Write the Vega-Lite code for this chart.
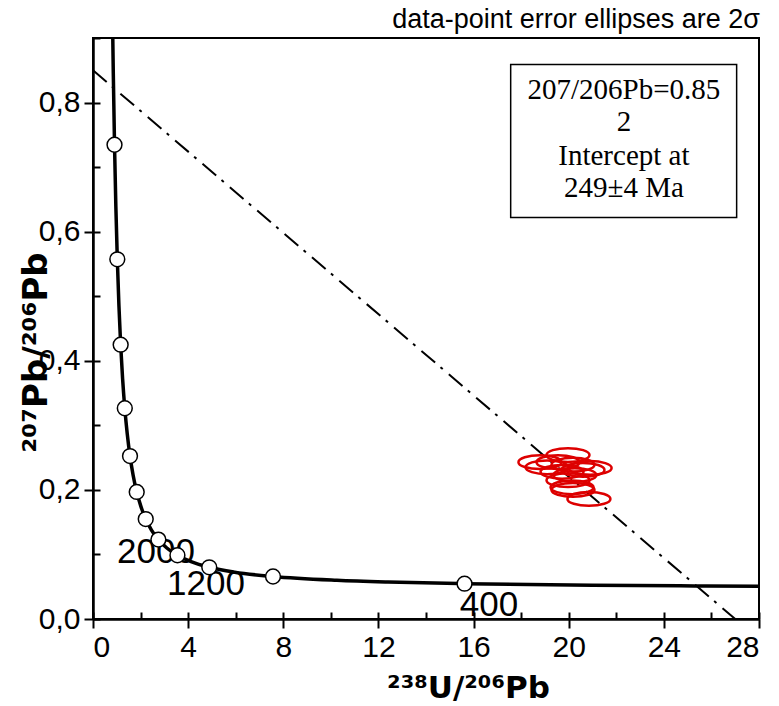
{
  "$schema": "https://vega.github.io/schema/vega-lite/v6.json",
  "width": 666,
  "height": 581,
  "autosize": {"type": "none"},
  "padding": {"left": 93, "top": 38, "right": 20, "bottom": 87},
  "background": "white",
  "title": {"text": "data-point error ellipses are 2σ", "anchor": "end", "fontSize": 27, "font": "Liberation Sans", "fontWeight": "normal", "color": "black", "offset": 3},
  "config": {
    "view": {"stroke": "black", "strokeWidth": 2},
    "axis": {"grid": false, "domainColor": "black", "domainWidth": 2.5, "tickColor": "black", "tickWidth": 2, "labelColor": "black", "labelFont": "Liberation Sans", "labelFontSize": 30, "titleFont": "DejaVu Sans", "titleFontSize": 31, "titleFontWeight": "bold", "titleColor": "black"}
  },
  "datasets": {
    "box": [{"x1": 17.56, "x2": 27.06, "y1": 0.622, "y2": 0.859}],
    "boxtext": [
      {"x": 22.32, "y": 0.8195, "label": "207/206Pb=0.85"},
      {"x": 22.32, "y": 0.7699, "label": "2"},
      {"x": 22.32, "y": 0.7172, "label": "Intercept at"},
      {"x": 22.32, "y": 0.6676, "label": "249±4 Ma"}
    ],
    "discordia": [{"x": 0, "y": 0.85}, {"x": 27.0, "y": 0.0}],
    "ellipses": [
      {"x": 19.97, "y": 0.254},
      {"x": 18.79, "y": 0.243},
      {"x": 19.09, "y": 0.235},
      {"x": 20.60, "y": 0.231},
      {"x": 20.26, "y": 0.223},
      {"x": 19.97, "y": 0.215},
      {"x": 20.14, "y": 0.204},
      {"x": 20.18, "y": 0.200},
      {"x": 20.85, "y": 0.186},
      {"x": 19.55, "y": 0.243},
      {"x": 20.18, "y": 0.239},
      {"x": 19.72, "y": 0.228},
      {"x": 20.90, "y": 0.234}
    ],
    "agelabels": [
      {"x": 2.65, "y": 0.104, "label": "2000"},
      {"x": 4.75, "y": 0.054, "label": "1200"},
      {"x": 16.65, "y": 0.0217, "label": "400"}
    ],
    "curve": [
      {"t": 220, "x": 28.80, "y": 0.0505},
      {"t": 250, "x": 25.29, "y": 0.0512},
      {"t": 300, "x": 20.99, "y": 0.0523},
      {"t": 400, "x": 15.62, "y": 0.0547},
      {"t": 500, "x": 12.40, "y": 0.0572},
      {"t": 600, "x": 10.252, "y": 0.0599},
      {"t": 800, "x": 7.568, "y": 0.0658},
      {"t": 1000, "x": 5.959, "y": 0.0725},
      {"t": 1200, "x": 4.888, "y": 0.0801},
      {"t": 1400, "x": 4.123, "y": 0.0888},
      {"t": 1600, "x": 3.550, "y": 0.0987},
      {"t": 1800, "x": 3.104, "y": 0.1100},
      {"t": 2000, "x": 2.749, "y": 0.1230},
      {"t": 2200, "x": 2.459, "y": 0.1378},
      {"t": 2400, "x": 2.217, "y": 0.1548},
      {"t": 2600, "x": 2.013, "y": 0.1744},
      {"t": 2800, "x": 1.838, "y": 0.1968},
      {"t": 3000, "x": 1.687, "y": 0.2227},
      {"t": 3200, "x": 1.556, "y": 0.2524},
      {"t": 3400, "x": 1.440, "y": 0.2868},
      {"t": 3600, "x": 1.337, "y": 0.3264},
      {"t": 3800, "x": 1.245, "y": 0.3721},
      {"t": 4000, "x": 1.163, "y": 0.4249},
      {"t": 4200, "x": 1.089, "y": 0.4864},
      {"t": 4400, "x": 1.022, "y": 0.5572},
      {"t": 4600, "x": 0.9605, "y": 0.6394},
      {"t": 4800, "x": 0.9044, "y": 0.7347},
      {"t": 5000, "x": 0.8533, "y": 0.8453},
      {"t": 5100, "x": 0.8292, "y": 0.9071}
    ],
    "circles": [
      {"t": 400, "x": 15.62, "y": 0.0547},
      {"t": 800, "x": 7.568, "y": 0.0658},
      {"t": 1200, "x": 4.888, "y": 0.0801},
      {"t": 1600, "x": 3.550, "y": 0.0987},
      {"t": 2000, "x": 2.749, "y": 0.1230},
      {"t": 2400, "x": 2.217, "y": 0.1548},
      {"t": 2800, "x": 1.838, "y": 0.1968},
      {"t": 3200, "x": 1.556, "y": 0.2524},
      {"t": 3600, "x": 1.337, "y": 0.3264},
      {"t": 4000, "x": 1.163, "y": 0.4249},
      {"t": 4400, "x": 1.022, "y": 0.5572},
      {"t": 4800, "x": 0.9044, "y": 0.7347}
    ]
  },
  "resolve": {"axis": {"x": "independent", "y": "independent"}},
  "layer": [
    {
      "data": {"name": "box"},
      "mark": {"type": "rect", "fill": "white", "stroke": "black", "strokeWidth": 1.5},
      "encoding": {
        "x": {"field": "x1", "type": "quantitative", "scale": {"domain": [0, 28], "nice": false, "zero": false},
          "axis": {"orient": "bottom", "values": [0, 4, 8, 12, 16, 20, 24, 28], "tickSize": 9, "labelPadding": 4, "title": "²³⁸U/²⁰⁶Pb", "titleX": 375, "titleY": 69, "titleBaseline": "middle", "titleAlign": "center"}},
        "x2": {"field": "x2"},
        "y": {"field": "y1", "type": "quantitative", "scale": {"domain": [0, 0.9], "nice": false, "zero": false},
          "axis": {"orient": "left", "values": [0, 0.2, 0.4, 0.6, 0.8], "tickSize": 9, "labelPadding": 4, "labelExpr": "replace(format(datum.value, '.1f'), '.', ',')", "title": "²⁰⁷Pb/²⁰⁶Pb", "titleFontSize": 34, "titleX": -57, "titleY": 314, "titleAngle": 270, "titleBaseline": "middle", "titleAlign": "center"}},
        "y2": {"field": "y2"}
      }
    },
    {
      "data": {"name": "boxtext"},
      "mark": {"type": "text", "font": "Liberation Serif", "fontSize": 29, "align": "center", "baseline": "middle", "color": "black"},
      "encoding": {
        "x": {"field": "x", "type": "quantitative", "axis": null},
        "y": {"field": "y", "type": "quantitative", "axis": null},
        "text": {"field": "label"}
      }
    },
    {
      "data": {"name": "discordia"},
      "mark": {"type": "line", "color": "black", "strokeWidth": 2, "strokeDash": [18, 7, 3, 8]},
      "encoding": {
        "x": {"field": "x", "type": "quantitative", "axis": null},
        "y": {"field": "y", "type": "quantitative", "axis": null}
      }
    },
    {
      "data": {"name": "ellipses"},
      "mark": {"type": "point", "shape": "M-1,0 C-1,-0.1767 -0.5523,-0.32 0,-0.32 C0.5523,-0.32 1,-0.1767 1,0 C1,0.1767 0.5523,0.32 0,0.32 C-0.5523,0.32 -1,0.1767 -1,0 Z", "filled": false, "stroke": "#dd0000", "strokeWidth": 2.5, "size": 1849, "opacity": 1},
      "encoding": {
        "x": {"field": "x", "type": "quantitative", "axis": null},
        "y": {"field": "y", "type": "quantitative", "axis": null}
      }
    },
    {
      "data": {"name": "agelabels"},
      "mark": {"type": "text", "font": "Liberation Sans", "fontSize": 35, "align": "center", "baseline": "middle", "color": "black"},
      "encoding": {
        "x": {"field": "x", "type": "quantitative", "axis": null},
        "y": {"field": "y", "type": "quantitative", "axis": null},
        "text": {"field": "label"}
      }
    },
    {
      "data": {"name": "curve"},
      "mark": {"type": "line", "color": "black", "strokeWidth": 3.5, "clip": true, "interpolate": "monotone"},
      "encoding": {
        "x": {"field": "x", "type": "quantitative",
          "axis": {"orient": "bottom", "values": [0, 2, 4, 6, 8, 10, 12, 14, 16, 18, 20, 22, 24, 26, 28], "tickSize": -7, "labels": false, "domain": false, "title": null}},
        "y": {"field": "y", "type": "quantitative",
          "axis": {"orient": "left", "values": [0, 0.1, 0.2, 0.3, 0.4, 0.5, 0.6, 0.7, 0.8, 0.9], "tickSize": -7, "labels": false, "domain": false, "title": null}},
        "order": {"field": "x", "type": "quantitative"}
      }
    },
    {
      "data": {"name": "circles"},
      "mark": {"type": "point", "shape": "circle", "filled": true, "fill": "white", "stroke": "black", "strokeWidth": 1.5, "size": 220, "opacity": 1},
      "encoding": {
        "x": {"field": "x", "type": "quantitative", "axis": null},
        "y": {"field": "y", "type": "quantitative", "axis": null}
      }
    }
  ]
}
